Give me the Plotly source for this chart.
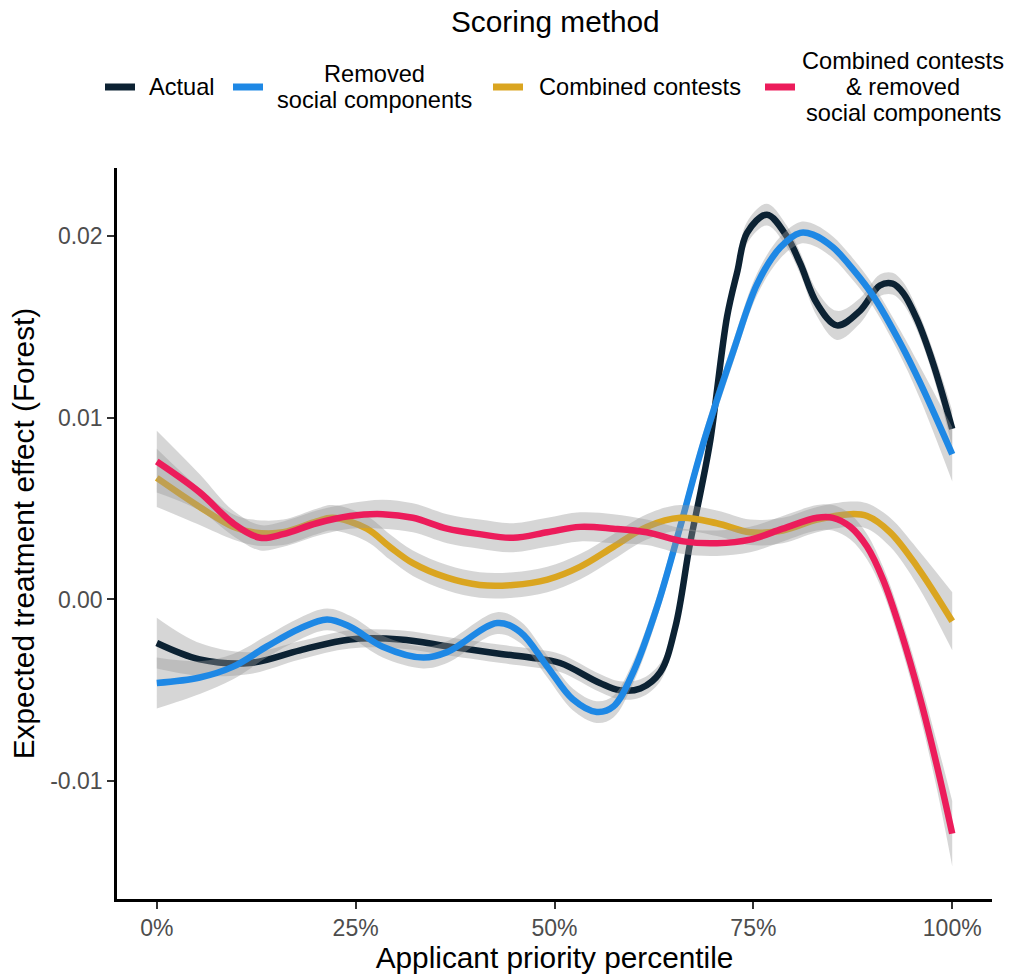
import plotly.graph_objects as go

# ---- smoothed treatment-effect curves (x = applicant priority percentile) ----
actual_x = [0, 0.054, 0.117, 0.18, 0.243, 0.306, 0.369, 0.433, 0.469, 0.507, 0.557, 0.582,
            0.608, 0.633, 0.652, 0.67, 0.684, 0.696, 0.717, 0.73, 0.742, 0.767, 0.792,
            0.809, 0.83, 0.855, 0.884, 0.909, 0.925, 0.938, 0.956, 0.976, 1.0]
actual_y = [-0.0024, -0.0033, -0.0035, -0.0028, -0.0022, -0.0022, -0.0026, -0.0030,
            -0.0032, -0.0035, -0.0046, -0.0050, -0.0049, -0.0040, -0.0015, 0.0030,
            0.0060, 0.0088, 0.0156, 0.0181, 0.0202, 0.0212, 0.0200, 0.0185, 0.0163,
            0.0151, 0.0159, 0.0173, 0.0174, 0.0169, 0.0154, 0.0130, 0.0094]
actual_ci = [0.0014, 0.0009, 0.0006, 0.0005, 0.0005, 0.0005, 0.0005, 0.0005, 0.0005,
             0.0005, 0.0005, 0.0005, 0.0005, 0.0005, 0.0005, 0.0005, 0.0005, 0.0005,
             0.0005, 0.0006, 0.0006, 0.0006, 0.0006, 0.0006, 0.0007, 0.0008, 0.0007,
             0.0006, 0.0006, 0.0006, 0.0006, 0.0007, 0.0010]

removed_x = [0, 0.054, 0.096, 0.138, 0.180, 0.214, 0.243, 0.284, 0.335, 0.365, 0.428,
             0.457, 0.491, 0.523, 0.553, 0.574, 0.599, 0.629, 0.658, 0.687, 0.725,
             0.755, 0.784, 0.809, 0.825, 0.850, 0.875, 0.901, 0.935, 0.960, 1.0]
removed_y = [-0.0046, -0.0043, -0.0037, -0.0026, -0.0016, -0.0011, -0.0015, -0.0026,
             -0.0032, -0.0029, -0.0013, -0.0018, -0.0037, -0.0055, -0.0062, -0.0059,
             -0.0040, -0.0004, 0.0040, 0.0086, 0.0137, 0.0174, 0.0194, 0.0202, 0.0201,
             0.0194, 0.0182, 0.0167, 0.0141, 0.0119, 0.0080]
removed_ci = [0.0014, 0.0009, 0.0007, 0.0006, 0.0006, 0.0006, 0.0006, 0.0006, 0.0006,
              0.0006, 0.0006, 0.0006, 0.0006, 0.0006, 0.0006, 0.0006, 0.0006, 0.0006,
              0.0006, 0.0006, 0.0006, 0.0006, 0.0006, 0.0006, 0.0006, 0.0006, 0.0006,
              0.0006, 0.0007, 0.0009, 0.0015]

combined_x = [0, 0.054, 0.096, 0.121, 0.159, 0.201, 0.221, 0.264, 0.293, 0.322, 0.365,
              0.406, 0.448, 0.491, 0.532, 0.574, 0.616, 0.658, 0.704, 0.746, 0.787,
              0.830, 0.872, 0.893, 0.922, 0.956, 1.0]
combined_y = [0.0067, 0.0051, 0.0040, 0.0037, 0.0037, 0.0043, 0.0045, 0.0039, 0.0029,
              0.0020, 0.0012, 0.0008, 0.0008, 0.0011, 0.0018, 0.0029, 0.0040, 0.0045,
              0.0042, 0.0037, 0.0038, 0.0044, 0.0047, 0.0046, 0.0037, 0.0018, -0.0012]
combined_ci = [0.0016, 0.0010, 0.0007, 0.0007, 0.0007, 0.0007, 0.0007, 0.0007, 0.0007,
               0.0007, 0.0007, 0.0007, 0.0007, 0.0007, 0.0007, 0.0007, 0.0007, 0.0007,
               0.0007, 0.0007, 0.0007, 0.0007, 0.0007, 0.0007, 0.0008, 0.0010, 0.0016]

comb_removed_x = [0, 0.054, 0.096, 0.130, 0.159, 0.201, 0.243, 0.284, 0.322, 0.365,
                  0.406, 0.448, 0.491, 0.532, 0.574, 0.616, 0.662, 0.704, 0.746, 0.787,
                  0.830, 0.850, 0.872, 0.893, 0.913, 0.935, 0.960, 0.981, 1.0]
comb_removed_y = [0.0076, 0.0059, 0.0042, 0.0034, 0.0036, 0.0042, 0.0046, 0.0047,
                  0.0045, 0.0039, 0.0036, 0.0034, 0.0037, 0.0040, 0.0039, 0.0037,
                  0.0032, 0.0031, 0.0033, 0.0039, 0.0045, 0.0045, 0.0040, 0.0029,
                  0.0011, -0.0017, -0.0055, -0.0092, -0.0129]
comb_removed_ci = [0.0017, 0.0010, 0.0007, 0.0007, 0.0007, 0.0007, 0.0007, 0.0008,
                   0.0008, 0.0008, 0.0008, 0.0008, 0.0008, 0.0008, 0.0008, 0.0007,
                   0.0007, 0.0007, 0.0007, 0.0007, 0.0007, 0.0007, 0.0007, 0.0007,
                   0.0007, 0.0008, 0.0010, 0.0013, 0.0018]

series_names = ["Actual", "Removed<br>social components", "Combined contests",
                "Combined contests<br>& removed<br>social components"]
series_colors = ["#0C2233", "#1E88E5", "#DAA520", "#EC1C5B"]

y_tick_vals = [-0.01, 0.00, 0.01, 0.02]
y_tick_text = ["-0.01", "0.00", "0.01", "0.02"]
x_tick_vals = [0, 0.25, 0.5, 0.75, 1.0]
x_tick_text = ["0%", "25%", "50%", "75%", "100%"]

series = [
    (actual_x, actual_y, actual_ci),
    (removed_x, removed_y, removed_ci),
    (combined_x, combined_y, combined_ci),
    (comb_removed_x, comb_removed_y, comb_removed_ci),
]

FONT = "Liberation Sans, Arial, Helvetica, sans-serif"
TITLE_SIZE = 29.8
LEGEND_SIZE = 23.6
TICK_SIZE = 23
W, H = 1014, 976
L, R, T, B = 117, 22, 168, 77
PW, PH = W - L - R, H - T - B

fig = go.Figure()
for (xs, ys, ci), name, color in zip(series, series_names, series_colors):
    lower = [y - c for y, c in zip(ys, ci)]
    upper = [y + c for y, c in zip(ys, ci)]
    fig.add_trace(go.Scatter(x=xs, y=lower, mode="lines", line=dict(width=0, shape="spline"),
                             hoverinfo="skip", showlegend=False))
    fig.add_trace(go.Scatter(x=xs, y=upper, mode="lines", line=dict(width=0, shape="spline"),
                             fill="tonexty", fillcolor="rgba(153,153,153,0.4)",
                             hoverinfo="skip", showlegend=False))
    fig.add_trace(go.Scatter(x=xs, y=ys, mode="lines", name=name,
                             line=dict(color=color, width=6.5, shape="spline"),
                             showlegend=False))


def px_x(px):
    return (px - L) / PW


def px_y(py):
    return (T + PH - py) / PH


# legend drawn in the top margin: title, colour keys and centred labels
shapes = []
annotations = [dict(text="Scoring method", x=px_x(555), y=px_y(21), xref="paper", yref="paper",
                    showarrow=False, xanchor="center", yanchor="middle",
                    font=dict(size=TITLE_SIZE, color="black", family=FONT))]
key_left = [105, 233, 493, 765]
label_center = [182, 374, 639.5, 903]
for kx, lc, name, color in zip(key_left, label_center, series_names, series_colors):
    shapes.append(dict(type="line", xref="paper", yref="paper",
                       x0=px_x(kx), x1=px_x(kx + 30), y0=px_y(87), y1=px_y(87),
                       line=dict(color=color, width=7)))
    lines = name.split("<br>")
    n = len(lines)
    for i, txt in enumerate(lines):
        cy = 87 + (i - (n - 1) / 2) * 26
        annotations.append(dict(text=txt, x=px_x(lc), y=px_y(cy), xref="paper", yref="paper",
                                showarrow=False, xanchor="center", yanchor="middle",
                                font=dict(size=LEGEND_SIZE, color="black", family=FONT)))

fig.update_layout(
    width=W, height=H,
    margin=dict(l=L, r=R, t=T, b=B, autoexpand=False),
    paper_bgcolor="white", plot_bgcolor="white",
    font=dict(family=FONT),
    showlegend=False,
    shapes=shapes,
    annotations=annotations,
    xaxis=dict(
        range=[-0.05, 1.05], tickvals=x_tick_vals, ticktext=x_tick_text,
        showgrid=False, zeroline=False, showline=True, linecolor="black", linewidth=2.5,
        ticks="outside", ticklen=7, tickwidth=2, tickcolor="#333333",
        tickfont=dict(size=TICK_SIZE, color="#4D4D4D", family=FONT),
        title=dict(text="Applicant priority percentile", standoff=5,
                   font=dict(size=TITLE_SIZE, color="black", family=FONT)),
        automargin=False,
    ),
    yaxis=dict(
        range=[-0.0165, 0.02377], tickvals=y_tick_vals, ticktext=y_tick_text,
        showgrid=False, zeroline=False, showline=True, linecolor="black", linewidth=2.5,
        ticks="outside", ticklen=7, tickwidth=2, tickcolor="#333333",
        tickfont=dict(size=TICK_SIZE, color="#4D4D4D", family=FONT),
        title=dict(text="Expected treatment effect (Forest)", standoff=7,
                   font=dict(size=TITLE_SIZE, color="black", family=FONT)),
        automargin=False,
    ),
)

fig.write_html("out.html")
